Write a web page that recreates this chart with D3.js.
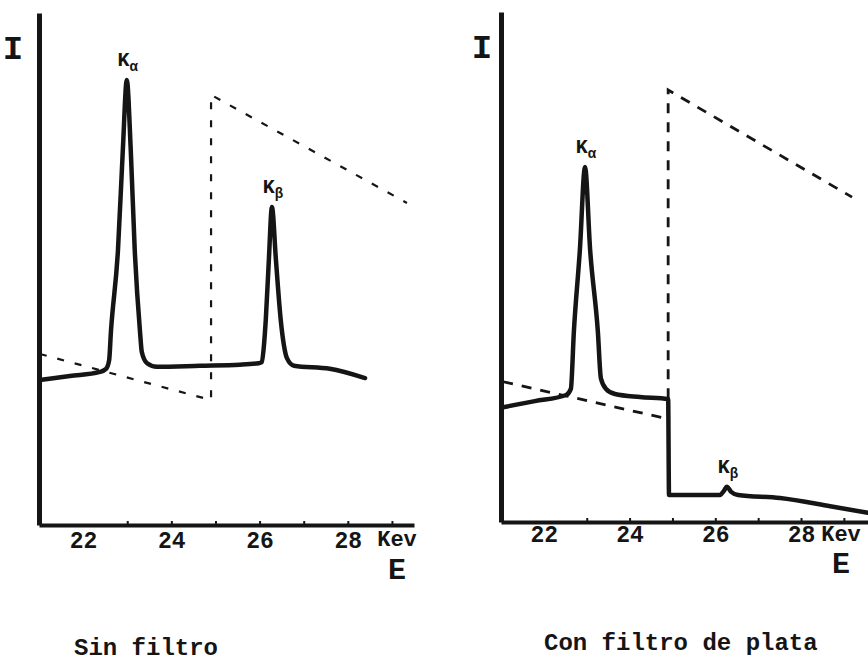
<!DOCTYPE html>
<html>
<head>
<meta charset="utf-8">
<script src="https://cdn.jsdelivr.net/npm/d3@7"></script>
<style>
  html, body { margin: 0; padding: 0; background: #fff; }
  svg { display: block; }
  text { font-family: "Liberation Mono", "DejaVu Sans Mono", monospace; fill: #151515; }
</style>
</head>
<body>
<svg id="chart" width="868" height="665"></svg>
<script>
// ---------- data (energy in keV, intensity in arbitrary units 0-100) ----------
const tickValues = [22, 24, 26, 28];
const tickLabels = ["22", "24", "26", "28"];
const minorTicks = [23, 24, 25, 26, 27, 28, 29];

// "Sin filtro" spectrum
const sinE = [21.02, 21.70, 22.38, 22.52, 22.59, 22.63, 22.79, 22.90, 22.99, 23.08, 23.17, 23.29, 23.33, 23.45, 23.67, 24.65, 25.55, 25.98, 26.05, 26.10, 26.14, 26.21, 26.28, 26.37, 26.48, 26.55, 26.62, 26.78, 27.59, 28.39];
const sinI = [28.3, 29.1, 29.9, 30.5, 32.2, 37.7, 53.7, 73.2, 86.9, 73.2, 53.7, 37.7, 33.8, 31.6, 30.9, 31.1, 31.3, 31.6, 31.8, 35.2, 40.0, 51.8, 62.1, 51.8, 40.0, 35.2, 32.6, 31.1, 30.5, 28.7];
// dashed absorption curve (left panel)
const absSinE = [21.02, 24.90, 24.90, 29.34];
const absSinI = [33.4, 24.4, 84.0, 62.9];

// "Con filtro de plata" spectrum
const conE = [21.05, 21.79, 22.52, 22.63, 22.70, 22.84, 22.96, 23.08, 23.26, 23.33, 23.45, 23.66, 24.24, 24.90, 24.92, 26.11, 26.20, 26.27, 26.37, 26.53, 27.51, 28.68, 29.56];
const conI = [22.5, 23.7, 24.9, 26.1, 37.3, 53.3, 69.6, 53.3, 37.3, 28.2, 26.1, 25.1, 24.5, 24.1, 5.3, 5.3, 6.1, 6.9, 5.9, 5.3, 4.7, 3.1, 1.8];
// dashed absorption curve (right panel)
const absConE = [21.05, 24.90, 24.90, 29.19];
const absConI = [27.5, 20.2, 84.7, 63.7];

const peakLabels = {
  sin: [{e: 22.99, i: 86.9, sub: "α"}, {e: 26.28, i: 62.1, sub: "β"}],
  con: [{e: 22.96, i: 69.6, sub: "α"}, {e: 26.27, i: 6.9, sub: "β"}]
};
const captions = ["Sin filtro", "Con filtro de plata"];

// ---------- drawing ----------
const svg = d3.select("#chart");
const ink = "#151515";

const panels = [
  { key: "sin", E: sinE, I: sinI, aE: absSinE, aI: absSinI,
    x: d3.scaleLinear().domain([21, 29.5]).range([39, 414]),
    y: d3.scaleLinear().domain([0, 100]).range([525, 13]),
    labelY: 540, kevY: 538, kevX: 397, eY: 568, iX: 13, caption: captions[0], capX: 74, capY: 655,
    dash: "7,11", dashW: 2.2 },
  { key: "con", E: conE, I: conI, aE: absConE, aI: absConI,
    x: d3.scaleLinear().domain([21, 29.6]).range([501, 869.6]),
    y: d3.scaleLinear().domain([0, 100]).range([522, 12]),
    labelY: 534, kevY: 533, kevX: 841, eY: 562, iX: 482, caption: captions[1], capX: 544, capY: 650,
    dash: "10,9", dashW: 2.8 }
];

panels.forEach(p => {
  const g = svg.append("g");
  const x = p.x, y = p.y;

  // dashed absorption curve
  const absData = p.aE.map((e, k) => [e, p.aI[k]]);
  g.append("path")
    .datum(absData)
    .attr("fill", "none")
    .attr("stroke", ink)
    .attr("stroke-width", p.dashW)
    .attr("stroke-dasharray", p.dash)
    .attr("d", d3.line().x(d => x(d[0])).y(d => y(d[1])));

  // spectrum
  const spec = p.E.map((e, k) => [e, p.I[k]]);
  g.append("path")
    .datum(spec)
    .attr("fill", "none")
    .attr("stroke", ink)
    .attr("stroke-width", 4.5)
    .attr("stroke-linejoin", "round")
    .attr("stroke-linecap", "round")
    .attr("d", d3.line().curve(d3.curveMonotoneX).x(d => x(d[0])).y(d => y(d[1])));

  // y axis (no ticks)
  const yAx = g.append("g")
    .attr("transform", `translate(${x.range()[0]},0)`)
    .call(d3.axisLeft(y).tickValues([]).tickSizeOuter(0));
  yAx.select(".domain").attr("stroke", ink).attr("stroke-width", 5);

  // x axis minor ticks (inward)
  const xMinor = g.append("g")
    .attr("transform", `translate(0,${y(0)})`)
    .call(d3.axisBottom(x).tickValues(minorTicks).tickSize(-4).tickSizeOuter(0).tickFormat(""));
  xMinor.select(".domain").attr("stroke", ink).attr("stroke-width", 4);
  xMinor.selectAll(".tick line").attr("stroke", ink).attr("stroke-width", 2);

  // x axis labels
  const xLab = g.append("g")
    .attr("transform", `translate(0,${p.labelY})`)
    .call(d3.axisBottom(x).tickValues(tickValues).tickSize(0).tickFormat((d, k) => tickLabels[k]));
  xLab.select(".domain").remove();
  xLab.selectAll(".tick text")
    .attr("dy", "0.35em")
    .attr("y", 0)
    .style("font-family", '"Liberation Mono", monospace')
    .style("font-weight", "bold")
    .style("font-size", "23px")
    .attr("fill", ink);

  // Kev and E
  g.append("text").attr("x", p.kevX).attr("y", p.kevY).attr("dy", "0.35em")
    .attr("text-anchor", "middle").style("font-weight", "bold").style("font-size", "22px").text("Kev");
  g.append("text").attr("x", p.kevX).attr("y", p.eY).attr("dy", "0.35em")
    .attr("text-anchor", "middle").style("font-weight", "bold").style("font-size", "30px").text("E");

  // I label
  g.append("text").attr("x", p.iX).attr("y", y(93.3)).attr("dy", "0.35em")
    .attr("text-anchor", "middle").style("font-weight", "bold").style("font-size", "34px").text("I");

  // peak labels
  peakLabels[p.key].forEach(pk => {
    const t = g.append("text")
      .attr("x", x(pk.e) + 1)
      .attr("y", y(pk.i) - 14)
      .attr("text-anchor", "middle")
      .style("font-weight", "bold")
      .style("font-size", "20px");
    t.append("tspan").text("K");
    t.append("tspan").attr("dy", 5).style("font-size", "14px").text(pk.sub);
  });

  // caption
  g.append("text").attr("x", p.capX).attr("y", p.capY)
    .style("font-size", "24px").style("font-weight", "bold").text(p.caption);
});
</script>
</body>
</html>
